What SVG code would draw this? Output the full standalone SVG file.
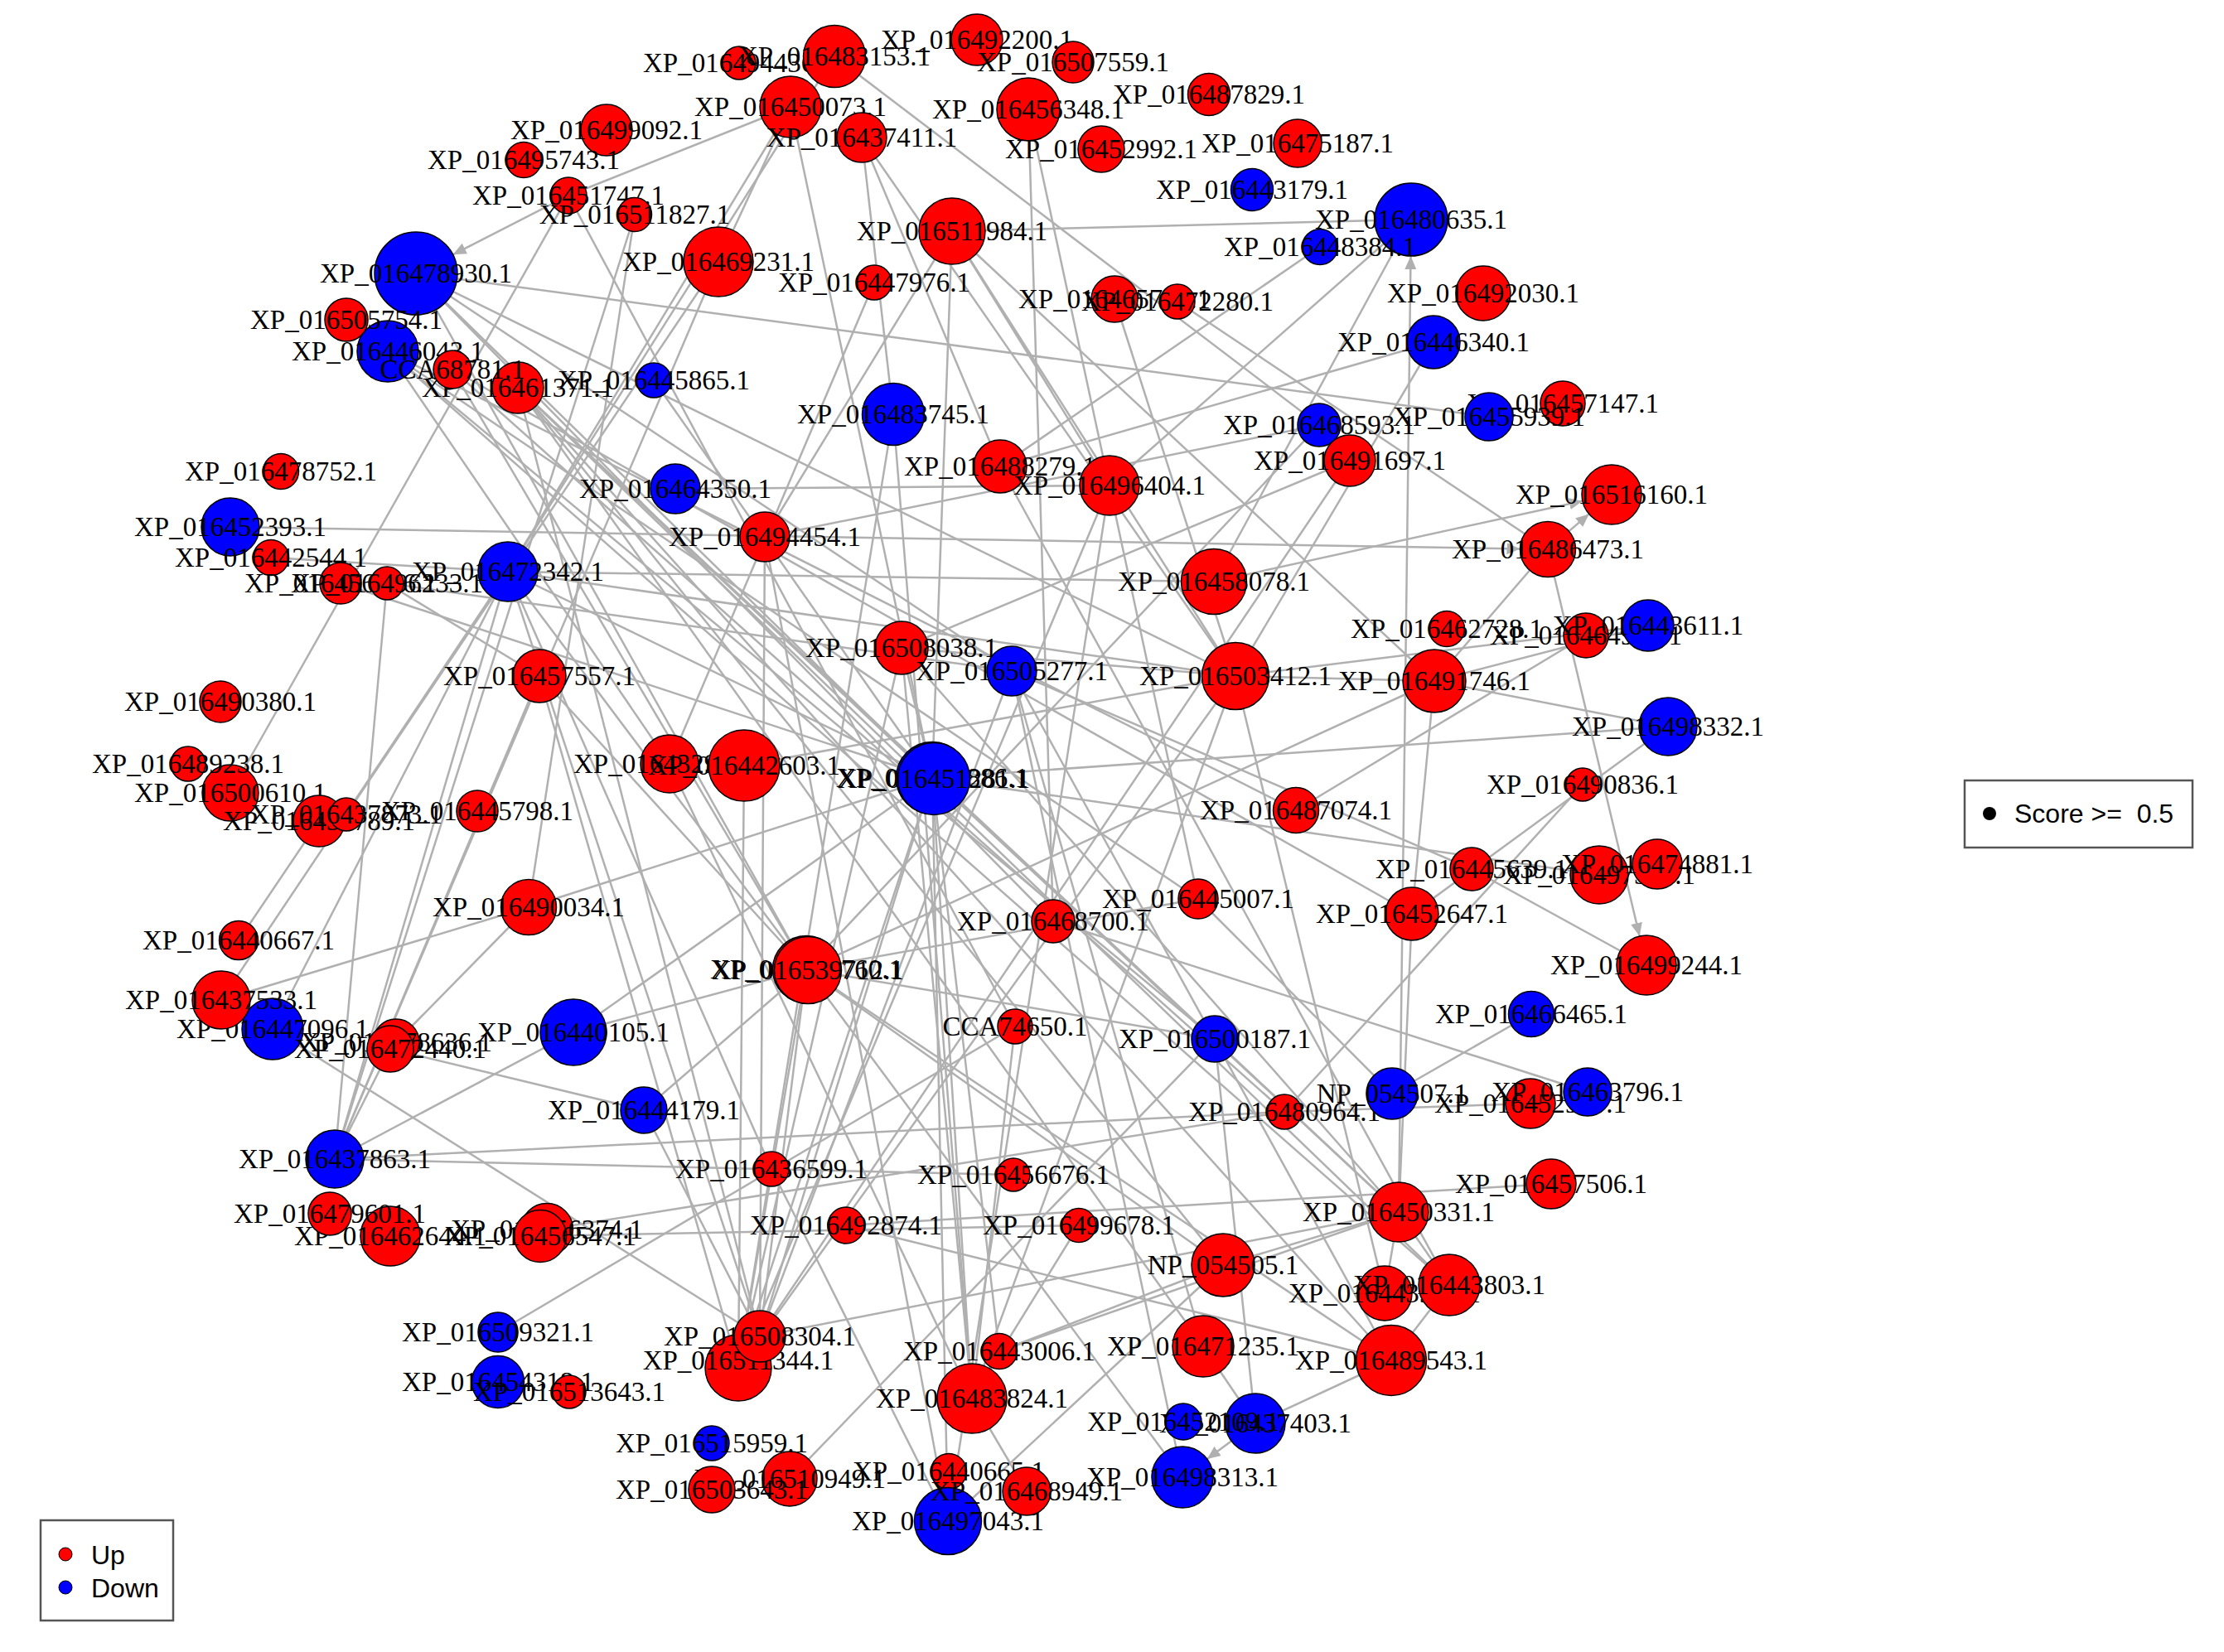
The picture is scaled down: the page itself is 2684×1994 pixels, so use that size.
<svg xmlns="http://www.w3.org/2000/svg" width="2684" height="1994" viewBox="0 0 2684 1994">
<style>
.e{stroke:#b0b0b0;stroke-width:2.5;fill:none}
.a{stroke:#b0b0b0;stroke-width:2.5;fill:none;marker-end:url(#arr)}
.up{fill:#ff0000;stroke:#000;stroke-width:1.5}
.dn{fill:#0000ff;stroke:#000;stroke-width:1.5}
.lb{font-family:"Liberation Serif","Times New Roman",serif;font-size:33px;fill:#000;text-anchor:middle}
.lg{font-family:"Liberation Sans",Arial,sans-serif;font-size:32px;fill:#000}
</style>
<defs>
<marker id="arr" markerUnits="userSpaceOnUse" markerWidth="18" markerHeight="14" refX="16" refY="7" orient="auto">
<path d="M0,0 L16,7 L0,14 Z" fill="#b0b0b0"/>
</marker>
</defs>
<rect width="2684" height="1994" fill="#fff"/>
<g id="edges">
<line class="e" x1="686" y1="236" x2="278" y2="957"/>
<line class="e" x1="686" y1="236" x2="1225" y2="1239"/>
<line class="e" x1="686" y1="236" x2="954" y2="129"/>
<line class="e" x1="468" y1="424" x2="808" y2="922"/>
<line class="e" x1="766" y1="259" x2="404" y2="1399"/>
<line class="e" x1="766" y1="259" x2="638" y2="1095"/>
<line class="e" x1="502" y1="330" x2="1797" y2="503"/>
<line class="e" x1="954" y1="129" x2="867" y2="316"/>
<line class="e" x1="954" y1="129" x2="613" y2="690"/>
<line class="e" x1="1007" y1="68" x2="1592" y2="513"/>
<line class="e" x1="954" y1="129" x2="1125" y2="939"/>
<line class="e" x1="1040" y1="166" x2="1078" y2="500"/>
<line class="e" x1="1040" y1="166" x2="1207" y2="563"/>
<line class="e" x1="1040" y1="166" x2="1491" y2="816"/>
<line class="e" x1="1241" y1="132" x2="1271" y2="1112"/>
<line class="e" x1="1241" y1="132" x2="1446" y2="1085"/>
<line class="e" x1="1149" y1="279" x2="1125" y2="939"/>
<line class="e" x1="1149" y1="279" x2="1339" y2="586"/>
<line class="e" x1="1149" y1="279" x2="923" y2="648"/>
<line class="e" x1="1149" y1="279" x2="1703" y2="265"/>
<line class="e" x1="1149" y1="279" x2="1491" y2="816"/>
<line class="e" x1="1149" y1="279" x2="1731" y2="822"/>
<line class="e" x1="1055" y1="341" x2="808" y2="922"/>
<line class="e" x1="418" y1="983" x2="867" y2="316"/>
<line class="e" x1="385" y1="991" x2="288" y2="1135"/>
<line class="e" x1="638" y1="1095" x2="1125" y2="939"/>
<line class="e" x1="267" y1="1207" x2="638" y2="1095"/>
<line class="e" x1="692" y1="1246" x2="973" y2="1170"/>
<line class="e" x1="692" y1="1246" x2="1125" y2="939"/>
<line class="e" x1="329" y1="1242" x2="613" y2="690"/>
<line class="e" x1="467" y1="704" x2="1221" y2="810"/>
<line class="e" x1="467" y1="704" x2="651" y2="816"/>
<line class="e" x1="467" y1="704" x2="404" y2="1399"/>
<line class="e" x1="1703" y1="265" x2="1339" y2="586"/>
<line class="e" x1="1703" y1="265" x2="1465" y2="702"/>
<line class="e" x1="1593" y1="298" x2="1207" y2="563"/>
<line class="e" x1="1730" y1="413" x2="1207" y2="563"/>
<line class="e" x1="1730" y1="413" x2="1491" y2="816"/>
<line class="e" x1="1868" y1="663" x2="1731" y2="822"/>
<line class="e" x1="1914" y1="767" x2="1564" y2="978"/>
<line class="e" x1="1989" y1="755" x2="1491" y2="816"/>
<line class="e" x1="1989" y1="755" x2="1731" y2="822"/>
<line class="e" x1="1731" y1="822" x2="1491" y2="816"/>
<line class="e" x1="1731" y1="822" x2="2013" y2="877"/>
<line class="e" x1="1731" y1="822" x2="1704" y2="1103"/>
<line class="e" x1="1731" y1="822" x2="973" y2="1170"/>
<line class="e" x1="2013" y1="877" x2="1125" y2="939"/>
<line class="e" x1="2013" y1="877" x2="1704" y2="1103"/>
<line class="e" x1="1910" y1="947" x2="1550" y2="1342"/>
<line class="e" x1="1776" y1="1049" x2="1987" y2="1165"/>
<line class="e" x1="1776" y1="1049" x2="1221" y2="810"/>
<line class="e" x1="1125" y1="939" x2="1930" y2="1056"/>
<line class="e" x1="1704" y1="1103" x2="1688" y2="1463"/>
<line class="e" x1="1848" y1="1224" x2="1680" y2="1320"/>
<line class="e" x1="1550" y1="1342" x2="1847" y2="1332"/>
<line class="e" x1="1446" y1="1085" x2="1680" y2="1320"/>
<line class="e" x1="1271" y1="1112" x2="1916" y2="1318"/>
<line class="e" x1="1021" y1="1479" x2="1872" y2="1429"/>
<line class="e" x1="1688" y1="1463" x2="1671" y2="1561"/>
<line class="e" x1="1688" y1="1463" x2="1749" y2="1551"/>
<line class="e" x1="1688" y1="1463" x2="1476" y2="1527"/>
<line class="e" x1="1679" y1="1642" x2="1749" y2="1551"/>
<line class="e" x1="1679" y1="1642" x2="1515" y2="1718"/>
<line class="e" x1="1466" y1="1254" x2="1515" y2="1718"/>
<line class="e" x1="1452" y1="1625" x2="1515" y2="1718"/>
<line class="e" x1="1173" y1="1688" x2="1302" y2="1479"/>
<line class="e" x1="1173" y1="1688" x2="1206" y2="1631"/>
<line class="e" x1="1173" y1="1688" x2="1239" y2="1800"/>
<line class="e" x1="1206" y1="1631" x2="1688" y2="1463"/>
<line class="e" x1="1206" y1="1631" x2="1476" y2="1527"/>
<line class="e" x1="1125" y1="939" x2="1206" y2="1631"/>
<line class="e" x1="917" y1="1613" x2="1688" y2="1463"/>
<line class="e" x1="931" y1="1411" x2="1144" y2="1836"/>
<line class="e" x1="923" y1="648" x2="1144" y2="1836"/>
<line class="e" x1="953" y1="1785" x2="1466" y2="1254"/>
<line class="e" x1="601" y1="1608" x2="1225" y2="1239"/>
<line class="e" x1="404" y1="1399" x2="1550" y2="1342"/>
<line class="e" x1="404" y1="1399" x2="1223" y2="1418"/>
<line class="e" x1="404" y1="1399" x2="692" y2="1246"/>
<line class="e" x1="404" y1="1399" x2="471" y2="1266"/>
<line class="e" x1="404" y1="1399" x2="613" y2="690"/>
<line class="e" x1="404" y1="1399" x2="651" y2="816"/>
<line class="e" x1="404" y1="1399" x2="867" y2="316"/>
<line class="e" x1="471" y1="1266" x2="777" y2="1340"/>
<line class="e" x1="329" y1="1242" x2="917" y2="1613"/>
<line class="e" x1="660" y1="1484" x2="1550" y2="1342"/>
<line class="e" x1="652" y1="1492" x2="1302" y2="1479"/>
<line class="e" x1="777" y1="1340" x2="917" y2="1613"/>
<line class="e" x1="777" y1="1340" x2="973" y2="1170"/>
<line class="e" x1="502" y1="330" x2="1221" y2="810"/>
<line class="e" x1="502" y1="330" x2="1125" y2="939"/>
<line class="e" x1="502" y1="330" x2="973" y2="1170"/>
<line class="e" x1="502" y1="330" x2="1491" y2="816"/>
<line class="e" x1="502" y1="330" x2="1271" y2="1112"/>
<line class="e" x1="468" y1="424" x2="1446" y2="1085"/>
<line class="e" x1="468" y1="424" x2="1466" y2="1254"/>
<line class="e" x1="546" y1="446" x2="1550" y2="1342"/>
<line class="e" x1="546" y1="446" x2="1704" y2="1103"/>
<line class="e" x1="625" y1="468" x2="1688" y2="1463"/>
<line class="e" x1="625" y1="468" x2="1679" y2="1642"/>
<line class="e" x1="625" y1="468" x2="1749" y2="1551"/>
<line class="e" x1="625" y1="468" x2="1476" y2="1527"/>
<line class="e" x1="625" y1="468" x2="1452" y2="1625"/>
<line class="e" x1="625" y1="468" x2="1125" y2="939"/>
<line class="e" x1="546" y1="446" x2="973" y2="1170"/>
<line class="e" x1="789" y1="459" x2="1125" y2="939"/>
<line class="e" x1="613" y1="690" x2="1007" y2="68"/>
<line class="e" x1="613" y1="690" x2="1125" y2="939"/>
<line class="e" x1="613" y1="690" x2="973" y2="1170"/>
<line class="e" x1="613" y1="690" x2="1491" y2="816"/>
<line class="e" x1="613" y1="690" x2="1465" y2="702"/>
<line class="e" x1="613" y1="690" x2="267" y2="1207"/>
<line class="e" x1="327" y1="673" x2="613" y2="690"/>
<line class="e" x1="1125" y1="939" x2="1088" y2="782"/>
<line class="e" x1="1125" y1="939" x2="891" y2="1651"/>
<line class="e" x1="1125" y1="939" x2="917" y2="1613"/>
<line class="e" x1="1125" y1="939" x2="1173" y2="1688"/>
<line class="e" x1="1125" y1="939" x2="1144" y2="1836"/>
<line class="e" x1="1125" y1="939" x2="1688" y2="1463"/>
<line class="e" x1="973" y1="1170" x2="917" y2="1613"/>
<line class="e" x1="973" y1="1170" x2="891" y2="1651"/>
<line class="e" x1="973" y1="1170" x2="1446" y2="1085"/>
<line class="e" x1="973" y1="1170" x2="1466" y2="1254"/>
<line class="e" x1="973" y1="1170" x2="1476" y2="1527"/>
<line class="e" x1="973" y1="1170" x2="1679" y2="1642"/>
<line class="e" x1="973" y1="1170" x2="1427" y2="1783"/>
<line class="e" x1="1491" y1="816" x2="891" y2="1651"/>
<line class="e" x1="1491" y1="816" x2="1173" y2="1688"/>
<line class="e" x1="1491" y1="816" x2="1671" y2="1561"/>
<line class="e" x1="1491" y1="816" x2="1088" y2="782"/>
<line class="e" x1="1088" y1="782" x2="891" y2="1651"/>
<line class="e" x1="1088" y1="782" x2="1688" y2="1463"/>
<line class="e" x1="1221" y1="810" x2="917" y2="1613"/>
<line class="e" x1="1221" y1="810" x2="1427" y2="1783"/>
<line class="e" x1="1221" y1="810" x2="1679" y2="1642"/>
<line class="e" x1="898" y1="924" x2="1491" y2="816"/>
<line class="e" x1="808" y1="922" x2="1173" y2="1688"/>
<line class="e" x1="1078" y1="500" x2="891" y2="1651"/>
<line class="e" x1="1078" y1="500" x2="1173" y2="1688"/>
<line class="e" x1="1207" y1="563" x2="1749" y2="1551"/>
<line class="e" x1="1339" y1="586" x2="891" y2="1651"/>
<line class="e" x1="1339" y1="586" x2="1144" y2="1836"/>
<line class="e" x1="923" y1="648" x2="1592" y2="513"/>
<line class="e" x1="815" y1="590" x2="1339" y2="586"/>
<line class="e" x1="1629" y1="556" x2="1088" y2="782"/>
<line class="e" x1="1629" y1="556" x2="891" y2="1651"/>
<line class="e" x1="1592" y1="513" x2="973" y2="1170"/>
<line class="e" x1="917" y1="1613" x2="613" y2="690"/>
<line class="e" x1="891" y1="1651" x2="651" y2="816"/>
<line class="e" x1="917" y1="1613" x2="625" y2="468"/>
<line class="e" x1="917" y1="1613" x2="923" y2="648"/>
<line class="e" x1="891" y1="1651" x2="898" y2="924"/>
<line class="e" x1="1173" y1="1688" x2="1225" y2="1239"/>
<line class="e" x1="1173" y1="1688" x2="1088" y2="782"/>
<line class="e" x1="1452" y1="1625" x2="1221" y2="810"/>
<line class="e" x1="1749" y1="1551" x2="468" y2="424"/>
<line class="e" x1="1679" y1="1642" x2="1021" y2="1479"/>
<line class="e" x1="478" y1="1258" x2="638" y2="1095"/>
<line class="e" x1="411" y1="704" x2="1125" y2="939"/>
<line class="e" x1="651" y1="816" x2="973" y2="1170"/>
<line class="e" x1="1345" y1="361" x2="1491" y2="816"/>
<line class="e" x1="1421" y1="364" x2="1868" y2="663"/>
<line class="e" x1="468" y1="424" x2="1564" y2="978"/>
<line class="e" x1="1144" y1="1836" x2="1476" y2="1527"/>
<line class="e" x1="931" y1="1411" x2="613" y2="690"/>
<line class="a" x1="686" y1="236" x2="546.6" y2="307.3"/>
<line class="a" x1="278" y1="636" x2="1834.5" y2="662.4"/>
<line class="a" x1="1688" y1="1463" x2="1702.5" y2="309"/>
<line class="a" x1="1465" y1="702" x2="1909.8" y2="604.7"/>
<line class="a" x1="1868" y1="663" x2="1917.7" y2="620.4"/>
<line class="a" x1="1868" y1="663" x2="1978.7" y2="1130"/>
<line class="a" x1="1515" y1="1718" x2="1456.8" y2="1761"/>
</g>
<g id="nodes">
<g id="node-XP_016499092_1"><circle class="up" cx="732" cy="157" r="31"/><text class="lb" x="732" y="168">XP_016499092.1</text></g>
<g id="node-XP_016495743_1"><circle class="up" cx="632" cy="193" r="21.5"/><text class="lb" x="632" y="204">XP_016495743.1</text></g>
<g id="node-XP_016451747_1"><circle class="up" cx="686" cy="236" r="22"/><text class="lb" x="686" y="247">XP_016451747.1</text></g>
<g id="node-XP_016511827_1"><circle class="up" cx="766" cy="259" r="20.5"/><text class="lb" x="766" y="270">XP_016511827.1</text></g>
<g id="node-XP_016478930_1"><circle class="dn" cx="502" cy="330" r="50"/><text class="lb" x="502" y="341">XP_016478930.1</text></g>
<g id="node-XP_016446043_1"><circle class="dn" cx="468" cy="424" r="37"/><text class="lb" x="468" y="435">XP_016446043.1</text></g>
<g id="node-XP_016505754_1"><circle class="up" cx="418" cy="386" r="26"/><text class="lb" x="418" y="397">XP_016505754.1</text></g>
<g id="node-XP_016461371_1"><circle class="up" cx="625" cy="468" r="31"/><text class="lb" x="625" y="479">XP_016461371.1</text></g>
<g id="node-CCA68781_1"><circle class="up" cx="546" cy="446" r="23"/><text class="lb" x="546" y="457">CCA68781.1</text></g>
<g id="node-XP_016445865_1"><circle class="dn" cx="789" cy="459" r="21"/><text class="lb" x="789" y="470">XP_016445865.1</text></g>
<g id="node-XP_016478752_1"><circle class="up" cx="339" cy="569" r="21.5"/><text class="lb" x="339" y="580">XP_016478752.1</text></g>
<g id="node-XP_016452393_1"><circle class="dn" cx="278" cy="636" r="35"/><text class="lb" x="278" y="647">XP_016452393.1</text></g>
<g id="node-XP_016469231_1"><circle class="up" cx="867" cy="316" r="42"/><text class="lb" x="867" y="327">XP_016469231.1</text></g>
<g id="node-XP_016464350_1"><circle class="dn" cx="815" cy="590" r="30"/><text class="lb" x="815" y="601">XP_016464350.1</text></g>
<g id="node-XP_016494436_1"><circle class="up" cx="892" cy="76" r="20"/><text class="lb" x="892" y="87">XP_016494436.1</text></g>
<g id="node-XP_016483153_1"><circle class="up" cx="1007" cy="68" r="37.5"/><text class="lb" x="1007" y="79">XP_016483153.1</text></g>
<g id="node-XP_016492200_1"><circle class="up" cx="1179" cy="48" r="31"/><text class="lb" x="1179" y="59">XP_016492200.1</text></g>
<g id="node-XP_016507559_1"><circle class="up" cx="1295" cy="75" r="25"/><text class="lb" x="1295" y="86">XP_016507559.1</text></g>
<g id="node-XP_016487829_1"><circle class="up" cx="1459" cy="114" r="25.5"/><text class="lb" x="1459" y="125">XP_016487829.1</text></g>
<g id="node-XP_016450073_1"><circle class="up" cx="954" cy="129" r="37"/><text class="lb" x="954" y="140">XP_016450073.1</text></g>
<g id="node-XP_016437411_1"><circle class="up" cx="1040" cy="166" r="30"/><text class="lb" x="1040" y="177">XP_016437411.1</text></g>
<g id="node-XP_016456348_1"><circle class="up" cx="1241" cy="132" r="38"/><text class="lb" x="1241" y="143">XP_016456348.1</text></g>
<g id="node-XP_016452992_1"><circle class="up" cx="1329" cy="180" r="28"/><text class="lb" x="1329" y="191">XP_016452992.1</text></g>
<g id="node-XP_016475187_1"><circle class="up" cx="1566" cy="173" r="29"/><text class="lb" x="1566" y="184">XP_016475187.1</text></g>
<g id="node-XP_016443179_1"><circle class="dn" cx="1511" cy="229" r="25.5"/><text class="lb" x="1511" y="240">XP_016443179.1</text></g>
<g id="node-XP_016511984_1"><circle class="up" cx="1149" cy="279" r="40"/><text class="lb" x="1149" y="290">XP_016511984.1</text></g>
<g id="node-XP_016447976_1"><circle class="up" cx="1055" cy="341" r="21"/><text class="lb" x="1055" y="352">XP_016447976.1</text></g>
<g id="node-XP_016465740_1"><circle class="up" cx="1345" cy="361" r="28"/><text class="lb" x="1345" y="372">XP_016465740.1</text></g>
<g id="node-XP_016472280_1"><circle class="up" cx="1421" cy="364" r="21"/><text class="lb" x="1421" y="375">XP_016472280.1</text></g>
<g id="node-XP_016483745_1"><circle class="dn" cx="1078" cy="500" r="37.5"/><text class="lb" x="1078" y="511">XP_016483745.1</text></g>
<g id="node-XP_016488279_1"><circle class="up" cx="1207" cy="563" r="32"/><text class="lb" x="1207" y="574">XP_016488279.1</text></g>
<g id="node-XP_016496404_1"><circle class="up" cx="1339" cy="586" r="36"/><text class="lb" x="1339" y="597">XP_016496404.1</text></g>
<g id="node-XP_016494454_1"><circle class="up" cx="923" cy="648" r="30"/><text class="lb" x="923" y="659">XP_016494454.1</text></g>
<g id="node-XP_016480635_1"><circle class="dn" cx="1703" cy="265" r="44"/><text class="lb" x="1703" y="276">XP_016480635.1</text></g>
<g id="node-XP_016448384_1"><circle class="dn" cx="1593" cy="298" r="21.5"/><text class="lb" x="1593" y="309">XP_016448384.1</text></g>
<g id="node-XP_016492030_1"><circle class="up" cx="1790" cy="354" r="33"/><text class="lb" x="1790" y="365">XP_016492030.1</text></g>
<g id="node-XP_016446340_1"><circle class="dn" cx="1730" cy="413" r="32"/><text class="lb" x="1730" y="424">XP_016446340.1</text></g>
<g id="node-XP_016457147_1"><circle class="up" cx="1886" cy="487" r="27"/><text class="lb" x="1886" y="498">XP_016457147.1</text></g>
<g id="node-XP_016455939_1"><circle class="dn" cx="1797" cy="503" r="29"/><text class="lb" x="1797" y="514">XP_016455939.1</text></g>
<g id="node-XP_016468593_1"><circle class="dn" cx="1592" cy="513" r="26"/><text class="lb" x="1592" y="524">XP_016468593.1</text></g>
<g id="node-XP_016491697_1"><circle class="up" cx="1629" cy="556" r="31"/><text class="lb" x="1629" y="567">XP_016491697.1</text></g>
<g id="node-XP_016516160_1"><circle class="up" cx="1945" cy="597" r="36"/><text class="lb" x="1945" y="608">XP_016516160.1</text></g>
<g id="node-XP_016486473_1"><circle class="up" cx="1868" cy="663" r="33.5"/><text class="lb" x="1868" y="674">XP_016486473.1</text></g>
<g id="node-XP_016442544_1"><circle class="up" cx="327" cy="673" r="21.5"/><text class="lb" x="327" y="684">XP_016442544.1</text></g>
<g id="node-XP_016456596_1"><circle class="up" cx="411" cy="704" r="25"/><text class="lb" x="411" y="715">XP_016456596.1</text></g>
<g id="node-XP_016496233_1"><circle class="up" cx="467" cy="704" r="20"/><text class="lb" x="467" y="715">XP_016496233.1</text></g>
<g id="node-XP_016472342_1"><circle class="dn" cx="613" cy="690" r="36"/><text class="lb" x="613" y="701">XP_016472342.1</text></g>
<g id="node-XP_016457557_1"><circle class="up" cx="651" cy="816" r="32"/><text class="lb" x="651" y="827">XP_016457557.1</text></g>
<g id="node-XP_016490380_1"><circle class="up" cx="266" cy="847" r="25"/><text class="lb" x="266" y="858">XP_016490380.1</text></g>
<g id="node-XP_016500610_1"><circle class="up" cx="278" cy="957" r="34"/><text class="lb" x="278" y="968">XP_016500610.1</text></g>
<g id="node-XP_016489238_1"><circle class="up" cx="227" cy="922" r="21"/><text class="lb" x="227" y="933">XP_016489238.1</text></g>
<g id="node-XP_016433789_1"><circle class="up" cx="385" cy="991" r="31"/><text class="lb" x="385" y="1002">XP_016433789.1</text></g>
<g id="node-XP_016437873_1"><circle class="up" cx="418" cy="983" r="20"/><text class="lb" x="418" y="994">XP_016437873.1</text></g>
<g id="node-XP_016445798_1"><circle class="up" cx="576" cy="979" r="25"/><text class="lb" x="576" y="990">XP_016445798.1</text></g>
<g id="node-XP_016490034_1"><circle class="up" cx="638" cy="1095" r="33.5"/><text class="lb" x="638" y="1106">XP_016490034.1</text></g>
<g id="node-XP_016440667_1"><circle class="up" cx="288" cy="1135" r="23.5"/><text class="lb" x="288" y="1146">XP_016440667.1</text></g>
<g id="node-XP_016447096_1"><circle class="dn" cx="329" cy="1242" r="37"/><text class="lb" x="329" y="1253">XP_016447096.1</text></g>
<g id="node-XP_016437533_1"><circle class="up" cx="267" cy="1207" r="35"/><text class="lb" x="267" y="1218">XP_016437533.1</text></g>
<g id="node-XP_016440105_1"><circle class="dn" cx="692" cy="1246" r="40"/><text class="lb" x="692" y="1257">XP_016440105.1</text></g>
<g id="node-XP_016478636_1"><circle class="up" cx="478" cy="1258" r="28"/><text class="lb" x="478" y="1269">XP_016478636.1</text></g>
<g id="node-XP_016472440_1"><circle class="up" cx="471" cy="1266" r="28"/><text class="lb" x="471" y="1277">XP_016472440.1</text></g>
<g id="node-XP_016444179_1"><circle class="dn" cx="777" cy="1340" r="28"/><text class="lb" x="777" y="1351">XP_016444179.1</text></g>
<g id="node-XP_016437863_1"><circle class="dn" cx="404" cy="1399" r="35"/><text class="lb" x="404" y="1410">XP_016437863.1</text></g>
<g id="node-XP_016462644_1"><circle class="up" cx="471" cy="1492" r="36"/><text class="lb" x="471" y="1503">XP_016462644.1</text></g>
<g id="node-XP_016479601_1"><circle class="up" cx="398" cy="1465" r="26"/><text class="lb" x="398" y="1476">XP_016479601.1</text></g>
<g id="node-XP_016456374_1"><circle class="up" cx="660" cy="1484" r="31.5"/><text class="lb" x="660" y="1495">XP_016456374.1</text></g>
<g id="node-XP_016456547_1"><circle class="up" cx="652" cy="1492" r="31.5"/><text class="lb" x="652" y="1503">XP_016456547.1</text></g>
<g id="node-XP_016509321_1"><circle class="dn" cx="601" cy="1608" r="24"/><text class="lb" x="601" y="1619">XP_016509321.1</text></g>
<g id="node-XP_016454318_1"><circle class="dn" cx="601" cy="1668" r="31.5"/><text class="lb" x="601" y="1679">XP_016454318.1</text></g>
<g id="node-XP_016513643_1"><circle class="up" cx="687" cy="1680" r="20"/><text class="lb" x="687" y="1691">XP_016513643.1</text></g>
<g id="node-XP_016458078_1"><circle class="up" cx="1465" cy="702" r="39.5"/><text class="lb" x="1465" y="713">XP_016458078.1</text></g>
<g id="node-XP_016508038_1"><circle class="up" cx="1088" cy="782" r="32"/><text class="lb" x="1088" y="793">XP_016508038.1</text></g>
<g id="node-XP_016505277_1"><circle class="dn" cx="1221" cy="810" r="30"/><text class="lb" x="1221" y="821">XP_016505277.1</text></g>
<g id="node-XP_016503412_1"><circle class="up" cx="1491" cy="816" r="40.5"/><text class="lb" x="1491" y="827">XP_016503412.1</text></g>
<g id="node-XP_016432908_1"><circle class="up" cx="808" cy="922" r="35"/><text class="lb" x="808" y="933">XP_016432908.1</text></g>
<g id="node-XP_016442603_1"><circle class="up" cx="898" cy="924" r="43"/><text class="lb" x="898" y="935">XP_016442603.1</text></g>
<g id="node-XP_016452886_1"><circle class="dn" cx="1125" cy="939" r="43.5"/><text class="lb" x="1125" y="950">XP_016452886.1</text></g>
<g id="node-XP_016451281_1"><circle class="dn" cx="1127" cy="940" r="43.5"/><text class="lb" x="1127" y="951">XP_016451281.1</text></g>
<g id="node-XP_016535760_1"><circle class="up" cx="973" cy="1170" r="40.5"/><text class="lb" x="973" y="1181">XP_016535760.1</text></g>
<g id="node-XP_016539712_1"><circle class="up" cx="975" cy="1171" r="40.5"/><text class="lb" x="975" y="1182">XP_016539712.1</text></g>
<g id="node-XP_016468700_1"><circle class="up" cx="1271" cy="1112" r="26"/><text class="lb" x="1271" y="1123">XP_016468700.1</text></g>
<g id="node-XP_016445007_1"><circle class="up" cx="1446" cy="1085" r="24"/><text class="lb" x="1446" y="1096">XP_016445007.1</text></g>
<g id="node-CCA74650_1"><circle class="up" cx="1225" cy="1239" r="21"/><text class="lb" x="1225" y="1250">CCA74650.1</text></g>
<g id="node-XP_016500187_1"><circle class="dn" cx="1466" cy="1254" r="28"/><text class="lb" x="1466" y="1265">XP_016500187.1</text></g>
<g id="node-XP_016487074_1"><circle class="up" cx="1564" cy="978" r="27.5"/><text class="lb" x="1564" y="989">XP_016487074.1</text></g>
<g id="node-XP_016462728_1"><circle class="up" cx="1746" cy="759" r="21.5"/><text class="lb" x="1746" y="770">XP_016462728.1</text></g>
<g id="node-XP_016491746_1"><circle class="up" cx="1731" cy="822" r="38"/><text class="lb" x="1731" y="833">XP_016491746.1</text></g>
<g id="node-XP_016464912_1"><circle class="up" cx="1914" cy="767" r="27"/><text class="lb" x="1914" y="778">XP_016464912.1</text></g>
<g id="node-XP_016443611_1"><circle class="dn" cx="1989" cy="755" r="31"/><text class="lb" x="1989" y="766">XP_016443611.1</text></g>
<g id="node-XP_016498332_1"><circle class="dn" cx="2013" cy="877" r="35"/><text class="lb" x="2013" y="888">XP_016498332.1</text></g>
<g id="node-XP_016490836_1"><circle class="up" cx="1910" cy="947" r="20"/><text class="lb" x="1910" y="958">XP_016490836.1</text></g>
<g id="node-XP_016445639_1"><circle class="up" cx="1776" cy="1049" r="26"/><text class="lb" x="1776" y="1060">XP_016445639.1</text></g>
<g id="node-XP_016497593_1"><circle class="up" cx="1930" cy="1056" r="35"/><text class="lb" x="1930" y="1067">XP_016497593.1</text></g>
<g id="node-XP_016474881_1"><circle class="up" cx="2000" cy="1043" r="30"/><text class="lb" x="2000" y="1054">XP_016474881.1</text></g>
<g id="node-XP_016452647_1"><circle class="up" cx="1704" cy="1103" r="32"/><text class="lb" x="1704" y="1114">XP_016452647.1</text></g>
<g id="node-XP_016499244_1"><circle class="up" cx="1987" cy="1165" r="36"/><text class="lb" x="1987" y="1176">XP_016499244.1</text></g>
<g id="node-XP_016466465_1"><circle class="dn" cx="1848" cy="1224" r="27.5"/><text class="lb" x="1848" y="1235">XP_016466465.1</text></g>
<g id="node-XP_016480964_1"><circle class="up" cx="1550" cy="1342" r="21"/><text class="lb" x="1550" y="1353">XP_016480964.1</text></g>
<g id="node-NP_054507_1"><circle class="dn" cx="1680" cy="1320" r="31"/><text class="lb" x="1680" y="1331">NP_054507.1</text></g>
<g id="node-XP_016452979_1"><circle class="up" cx="1847" cy="1332" r="30"/><text class="lb" x="1847" y="1343">XP_016452979.1</text></g>
<g id="node-XP_016463796_1"><circle class="dn" cx="1916" cy="1318" r="29"/><text class="lb" x="1916" y="1329">XP_016463796.1</text></g>
<g id="node-XP_016457506_1"><circle class="up" cx="1872" cy="1429" r="30"/><text class="lb" x="1872" y="1440">XP_016457506.1</text></g>
<g id="node-XP_016450331_1"><circle class="up" cx="1688" cy="1463" r="36"/><text class="lb" x="1688" y="1474">XP_016450331.1</text></g>
<g id="node-NP_054505_1"><circle class="up" cx="1476" cy="1527" r="38"/><text class="lb" x="1476" y="1538">NP_054505.1</text></g>
<g id="node-XP_016443978_1"><circle class="up" cx="1671" cy="1561" r="33"/><text class="lb" x="1671" y="1572">XP_016443978.1</text></g>
<g id="node-XP_016443803_1"><circle class="up" cx="1749" cy="1551" r="37"/><text class="lb" x="1749" y="1562">XP_016443803.1</text></g>
<g id="node-XP_016489543_1"><circle class="up" cx="1679" cy="1642" r="42.5"/><text class="lb" x="1679" y="1653">XP_016489543.1</text></g>
<g id="node-XP_016437403_1"><circle class="dn" cx="1515" cy="1718" r="36"/><text class="lb" x="1515" y="1729">XP_016437403.1</text></g>
<g id="node-XP_016452109_1"><circle class="dn" cx="1428" cy="1716" r="22"/><text class="lb" x="1428" y="1727">XP_016452109.1</text></g>
<g id="node-XP_016498313_1"><circle class="dn" cx="1427" cy="1783" r="37"/><text class="lb" x="1427" y="1794">XP_016498313.1</text></g>
<g id="node-XP_016471235_1"><circle class="up" cx="1452" cy="1625" r="37"/><text class="lb" x="1452" y="1636">XP_016471235.1</text></g>
<g id="node-XP_016436599_1"><circle class="up" cx="931" cy="1411" r="21"/><text class="lb" x="931" y="1422">XP_016436599.1</text></g>
<g id="node-XP_016456676_1"><circle class="up" cx="1223" cy="1418" r="20"/><text class="lb" x="1223" y="1429">XP_016456676.1</text></g>
<g id="node-XP_016492874_1"><circle class="up" cx="1021" cy="1479" r="22"/><text class="lb" x="1021" y="1490">XP_016492874.1</text></g>
<g id="node-XP_016499678_1"><circle class="up" cx="1302" cy="1479" r="20.5"/><text class="lb" x="1302" y="1490">XP_016499678.1</text></g>
<g id="node-XP_016511344_1"><circle class="up" cx="891" cy="1651" r="40"/><text class="lb" x="891" y="1653">XP_016511344.1</text></g>
<g id="node-XP_016508304_1"><circle class="up" cx="917" cy="1613" r="31"/><text class="lb" x="917" y="1624">XP_016508304.1</text></g>
<g id="node-XP_016443006_1"><circle class="up" cx="1206" cy="1631" r="21.5"/><text class="lb" x="1206" y="1642">XP_016443006.1</text></g>
<g id="node-XP_016483824_1"><circle class="up" cx="1173" cy="1688" r="42"/><text class="lb" x="1173" y="1699">XP_016483824.1</text></g>
<g id="node-XP_016515959_1"><circle class="dn" cx="859" cy="1742" r="21"/><text class="lb" x="859" y="1753">XP_016515959.1</text></g>
<g id="node-XP_016510949_1"><circle class="up" cx="953" cy="1785" r="33"/><text class="lb" x="953" y="1796">XP_016510949.1</text></g>
<g id="node-XP_016503643_1"><circle class="up" cx="859" cy="1798" r="28"/><text class="lb" x="859" y="1809">XP_016503643.1</text></g>
<g id="node-XP_016440665_1"><circle class="up" cx="1145" cy="1776" r="21.5"/><text class="lb" x="1145" y="1787">XP_016440665.1</text></g>
<g id="node-XP_016497043_1"><circle class="dn" cx="1144" cy="1836" r="40.5"/><text class="lb" x="1144" y="1847">XP_016497043.1</text></g>
<g id="node-XP_016468949_1"><circle class="up" cx="1239" cy="1800" r="29"/><text class="lb" x="1239" y="1811">XP_016468949.1</text></g>
</g>
<g id="legend-score">
<rect x="2371" y="942" width="275" height="81" fill="#fff" stroke="#555" stroke-width="2.5"/>
<circle cx="2401" cy="982" r="8" fill="#000"/>
<text class="lg" x="2431" y="993" xml:space="preserve">Score &gt;=  0.5</text>
</g>
<g id="legend-regulation">
<rect x="49" y="1835" width="160" height="121" fill="#fff" stroke="#555" stroke-width="2.5"/>
<circle cx="79" cy="1876" r="8" fill="#ff0000" stroke="#000" stroke-width="1"/>
<circle cx="79" cy="1916" r="8" fill="#0000ff" stroke="#000" stroke-width="1"/>
<text class="lg" x="110" y="1888">Up</text>
<text class="lg" x="110" y="1928">Down</text>
</g>
</svg>
